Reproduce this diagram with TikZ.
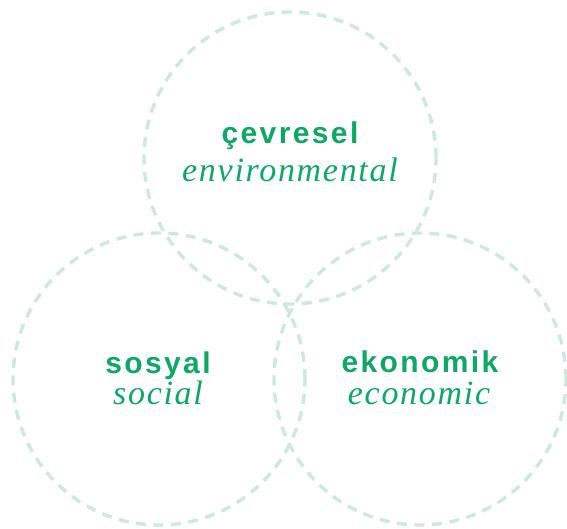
\documentclass[tikz,border=0pt]{standalone}
\usepackage{fontspec}
\usepackage{xcolor}
\newfontfamily\trfont[LetterSpace=8]{Liberation Sans}
\newfontfamily\enfont[LetterSpace=5]{Liberation Serif}
\definecolor{ringgreen}{HTML}{CDE9DE}
\definecolor{textgreen}{HTML}{0EA866}

\begin{document}
\begin{tikzpicture}[x=1pt,y=-1pt,
  ring/.style={circle,draw=ringgreen,line width=3.4pt,dash pattern=on 10pt off 7.5pt,minimum size=292pt,inner sep=0pt},
  trlabel/.style={anchor=base,inner sep=0pt,text=textgreen,font=\trfont\bfseries\fontsize{30}{32}\selectfont},
  enlabel/.style={anchor=base,inner sep=0pt,text=textgreen,font=\enfont\itshape\fontsize{34}{36}\selectfont}]
\useasboundingbox (0,0) rectangle (567,528);
\node[ring] (envring) at (290,158) {};
\node[ring] (socring) at (159,379) {};
\node[ring] (ecoring) at (420,379) {};
\node[trlabel] (envtr) at (290,143) {çevresel};
\node[enlabel] (enven) at (290,181) {environmental};
\node[trlabel] (soctr) at (158,373) {sosyal};
\node[enlabel] (socen) at (158,404) {social};
\node[trlabel] (ecotr) at (420,372) {ekonomik};
\node[enlabel] (ecoen) at (419,404) {economic};
\end{tikzpicture}
\end{document}
